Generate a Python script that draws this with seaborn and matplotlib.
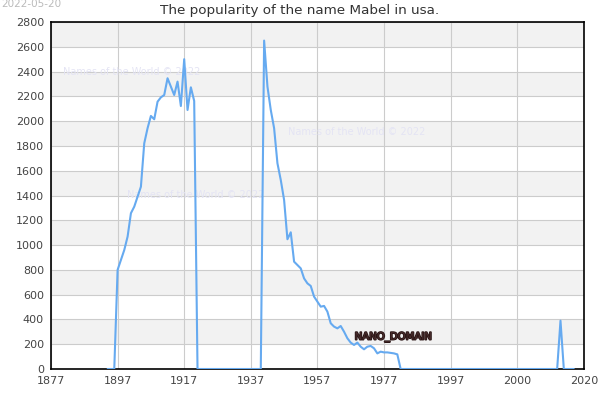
import pandas as pd
import matplotlib
matplotlib.use('Agg')
import matplotlib.pyplot as plt
import matplotlib.patheffects as pe
import seaborn as sns

# Data
years = list(range(1894, 2035))
counts = (
    [0, 0, 0]
    + [800, 880, 960, 1068, 1257, 1310, 1391, 1471, 1821, 1943, 2042, 2015,
       2157, 2192, 2211, 2346, 2279, 2211, 2319, 2122, 2500, 2090, 2273, 2163]
    + [0] * 20
    + [2650, 2279, 2090, 1943, 1660, 1525, 1364, 1047, 1103, 866, 839, 812,
       731, 691, 670, 584, 543, 503, 509, 463, 369, 342, 328, 347, 301, 248,
       213, 194, 213, 180, 159, 180, 186, 167, 126, 140, 134, 134, 130, 126, 118]
    + [0] * 48
    + [390]
    + [0] * 4
)
tick_pos = [1877, 1897, 1917, 1937, 1957, 1977, 1997, 2017, 2037]
tick_labels = ['1877', '1897', '1917', '1937', '1957', '1977', '1997', '2000', '2020']
y_ticks = list(range(0, 2801, 200))

df = pd.DataFrame({'year': years, 'count': counts})

sns.set_style('white')
plt.rcParams['font.family'] = ['DejaVu Sans']

fig = plt.figure(figsize=(6, 4), dpi=100)
ax = fig.add_axes([0.085, 0.0775, 0.888, 0.8675])

# alternating horizontal bands
for lo in range(200, 2800, 400):
    ax.axhspan(lo, lo + 200, color='#f2f2f2', zorder=0, lw=0)

sns.lineplot(data=df, x='year', y='count', ax=ax, color='#66aaf0', lw=1.5, zorder=3)

ax.set_xlim(1877, 2037)
ax.set_ylim(0, 2800)
ax.set_xticks(tick_pos)
ax.set_xticklabels(tick_labels)
ax.set_yticks(y_ticks)
ax.grid(True, color='#cccccc', lw=0.8, zorder=1)
ax.set_axisbelow(True)
ax.tick_params(labelsize=8, colors='#444444', length=0, pad=5)
ax.set_xlabel('')
ax.set_ylabel('')
for s in ax.spines.values():
    s.set_color('black')
    s.set_linewidth(1.2)

# watermarks
wm = dict(fontsize=7, color='#e4e4f4', zorder=2)
ax.text(1880.6, 2371, 'Names of the World © 2022', **wm)
ax.text(1948.3, 1887, 'Names of the World © 2022', **wm)
ax.text(1899.9, 1379, 'Names of the World © 2022', **wm)

ax.text(1968.2, 258, 'NANO_DOMAIN', fontsize=7.3, color='#4a2e2e', va='center', zorder=4,
        path_effects=[pe.withStroke(linewidth=1.3, foreground='#2a1616')])

fig.text(0.5, 0.974, 'The popularity of the name Mabel in usa.', ha='center', va='center',
         fontsize=9.7, color='#333333')
fig.text(0.002, 0.99, '2022-05-20', ha='left', va='center', fontsize=7.5, color='#bbbbbb')

fig.savefig('out.png', dpi=100)
